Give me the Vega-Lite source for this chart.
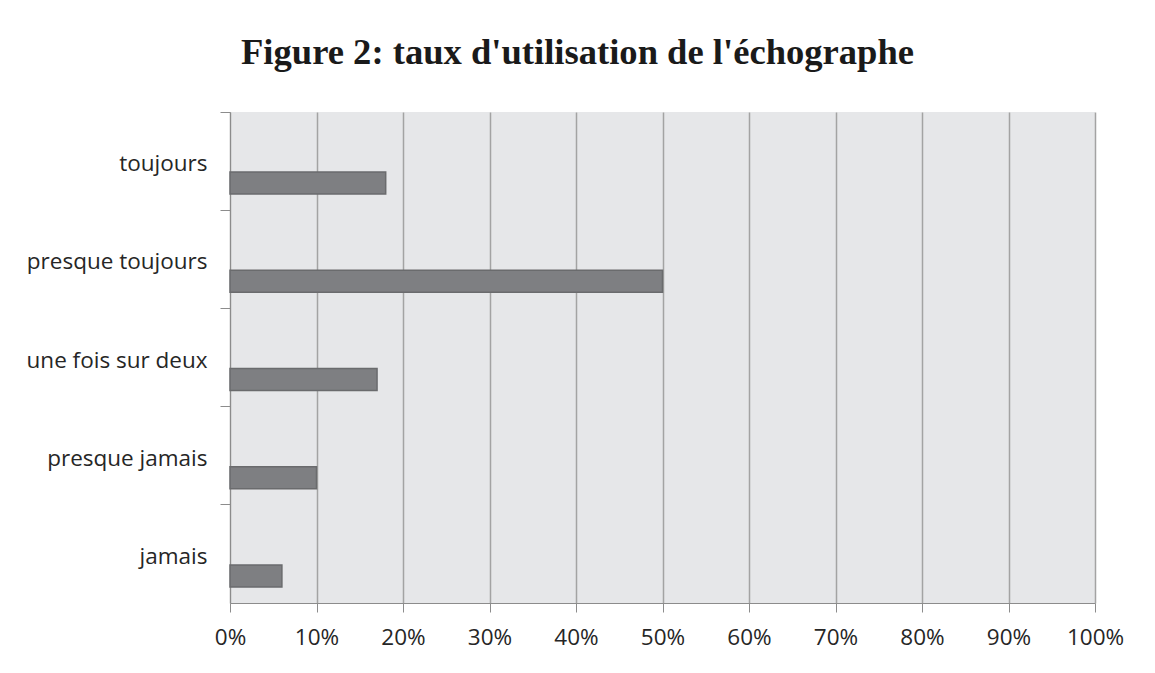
{
  "$schema": "https://vega.github.io/schema/vega-lite/v6.json",
  "width": 865,
  "height": 491,
  "autosize": {"type": "none"},
  "padding": {"left": 230, "top": 112, "right": 60, "bottom": 70},
  "background": "white",
  "title": {
    "text": "Figure 2: taux d'utilisation de l'échographe",
    "font": "Liberation Serif",
    "fontSize": 36.6,
    "fontWeight": "bold",
    "color": "#1a1a1a",
    "anchor": "middle",
    "dx": -85,
    "offset": 40
  },
  "data": {
    "values": [
      {"categorie": "toujours", "taux": 0.18},
      {"categorie": "presque toujours", "taux": 0.50},
      {"categorie": "une fois sur deux", "taux": 0.17},
      {"categorie": "presque jamais", "taux": 0.10},
      {"categorie": "jamais", "taux": 0.06}
    ]
  },
  "mark": {
    "type": "bar",
    "height": 22,
    "yOffset": 22,
    "fill": "#7e7f82",
    "stroke": "#6a6b6d",
    "strokeWidth": 1.5
  },
  "encoding": {
    "y": {
      "field": "categorie",
      "type": "nominal",
      "sort": null,
      "title": null,
      "scale": {"paddingInner": 0, "paddingOuter": 0},
      "axis": {
        "bandPosition": 0,
        "tickSize": 10,
        "tickColor": "#8c8c8c",
        "domainColor": "#8c8c8c",
        "labelPadding": 13,
        "labelLimit": 0,
        "labelFont": "Open Sans",
        "labelFontSize": 22.5,
        "labelColor": "#262626",
        "labelOffset": 3,
        "grid": false
      }
    },
    "x": {
      "field": "taux",
      "type": "quantitative",
      "title": null,
      "scale": {"domain": [0, 1], "nice": false},
      "axis": {
        "format": ".0%",
        "values": [0, 0.1, 0.2, 0.3, 0.4, 0.5, 0.6, 0.7, 0.8, 0.9, 1],
        "labelFlush": false,
        "grid": true,
        "gridColor": "#a3a3a3",
        "gridWidth": 1.5,
        "tickSize": 9,
        "tickColor": "#8c8c8c",
        "domainColor": "#8c8c8c",
        "labelPadding": 14,
        "labelFont": "Open Sans",
        "labelFontSize": 22.5,
        "labelColor": "#262626"
      }
    }
  },
  "config": {
    "view": {"fill": "#e6e7e9", "stroke": null}
  }
}
